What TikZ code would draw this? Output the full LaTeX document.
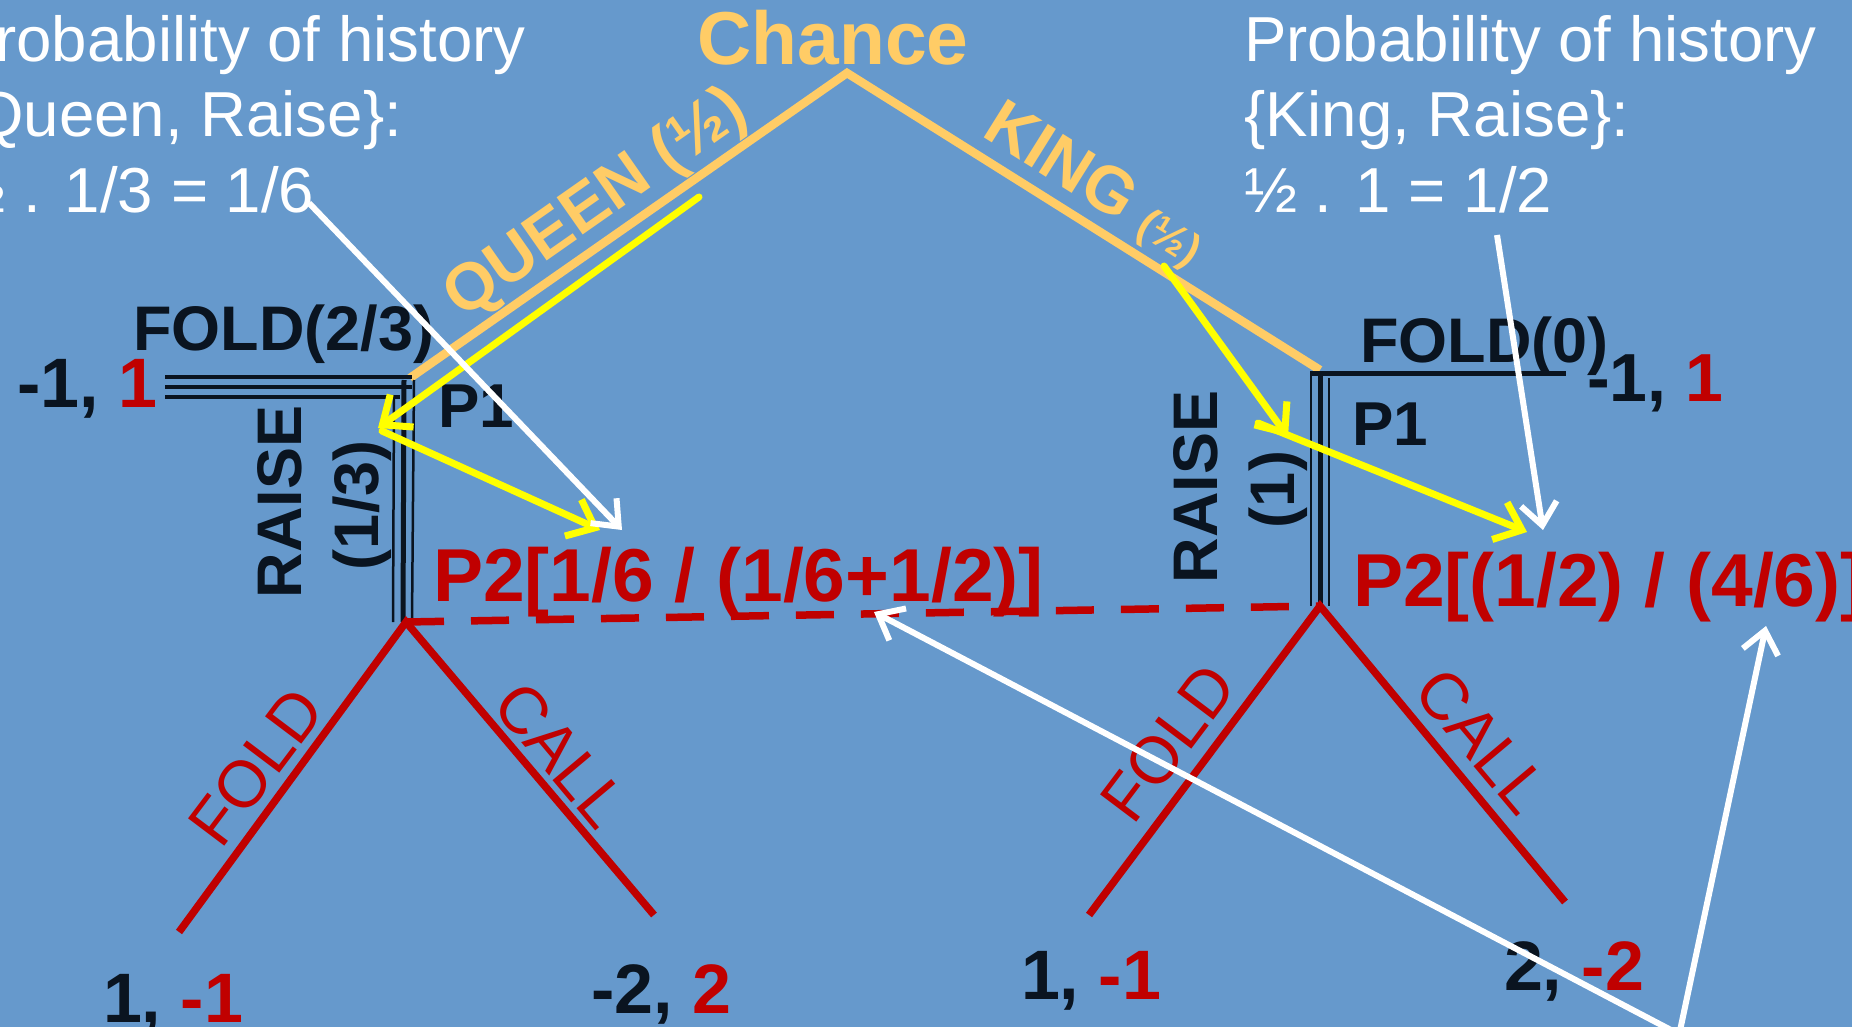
\documentclass[tikz,border=0pt]{standalone}
\usepackage{fontspec}
\setmainfont{Liberation Sans}
\usetikzlibrary{arrows.meta}
\definecolor{bg}{RGB}{102,153,204}
\definecolor{orng}{RGB}{255,204,102}
\definecolor{dk}{RGB}{10,20,32}
\definecolor{rd}{RGB}{192,0,0}
\definecolor{yl}{RGB}{255,255,0}
\begin{document}
\begin{tikzpicture}[x=1pt,y=-1pt,
  orline/.style={orng, line width=8.5pt},
  bkthin/.style={dk, line width=3.5pt},
  bkthick/.style={dk, line width=5pt},
  rdline/.style={rd, line width=7.5pt},
  rddash/.style={rd, line width=7.5pt, dash pattern=on 38pt off 27pt},
  yarrow/.style={yl, line width=7pt, line cap=round, -{Straight Barb[length=24pt,width=40pt]}},
  warrow/.style={white, line width=6pt, -{Straight Barb[length=22pt,width=36pt]}},
  txt/.style={inner sep=0pt, outer sep=0pt},
  wtxt/.style={txt, text=white, anchor=base west, font=\fontsize{63.6}{75}\selectfont},
  bktxt/.style={txt, text=dk, anchor=base west, font=\fontsize{63}{63}\selectfont\bfseries},
  paytxt/.style={txt, text=dk, anchor=base west, font=\fontsize{70}{70}\selectfont\bfseries},
  p2txt/.style={txt, text=rd, anchor=base west, font=\fontsize{75}{75}\selectfont\bfseries},
  rdlbl/.style={txt, text=rd, anchor=center, font=\fontsize{66}{66}\selectfont},
  orlbl/.style={txt, text=orng, anchor=center, font=\fontsize{66}{66}\selectfont\bfseries},
]
\clip (0,0) rectangle (1852,1027);
\fill[bg] (0,0) rectangle (1852,1027);

% key points
\coordinate (ch) at (847,73);
\coordinate (q) at (410,378);
\coordinate (k) at (1320,370);
\coordinate (l2) at (406,622);
\coordinate (r2) at (1320,606);
\coordinate (llf) at (179,932);
\coordinate (lrc) at (654,915);
\coordinate (rlf) at (1089,915);
\coordinate (rrc) at (1565,902);

% chance branches
\draw[orline] (q) -- (ch) -- (k);

% left P1 triple lines
\coordinate (lh1a) at (165,377); \coordinate (lh1b) at (412,377);
\coordinate (lh2a) at (165,387); \coordinate (lh2b) at (412,387);
\coordinate (lh3a) at (165,397); \coordinate (lh3b) at (400,397);
\draw[bkthin] (lh1a) -- (lh1b);
\draw[bkthin] (lh2a) -- (lh2b);
\draw[bkthin] (lh3a) -- (lh3b);
\coordinate (lv1a) at (394,395); \coordinate (lv1b) at (393,622);
\coordinate (lv2a) at (404,380); \coordinate (lv2b) at (403,622);
\coordinate (lv3a) at (414,380); \coordinate (lv3b) at (412,622);
\draw[bkthin, line width=2.5pt] (lv1a) -- (lv1b);
\draw[bkthick] (lv2a) -- (lv2b);
\draw[bkthin, line width=2.5pt] (lv3a) -- (lv3b);

% right P1 lines
\coordinate (rh1a) at (1310,373); \coordinate (rh1b) at (1566,373);
\draw[bkthick] (rh1a) -- (rh1b);
\coordinate (rv1a) at (1311,372); \coordinate (rv1b) at (1311,606);
\coordinate (rv2a) at (1320,372); \coordinate (rv2b) at (1320,606);
\coordinate (rv3a) at (1329,378); \coordinate (rv3b) at (1329,606);
\draw[bkthin, line width=2.5pt] (rv1a) -- (rv1b);
\draw[bkthick] (rv2a) -- (rv2b);
\draw[bkthin, line width=2.5pt] (rv3a) -- (rv3b);

% P2 red lines
\draw[rddash] (l2) -- (r2);
\draw[rdline] (llf) -- (l2) -- (lrc);
\draw[rdline] (rlf) -- (r2) -- (rrc);

% texts
\node[txt, text=orng, anchor=base, font=\fontsize{75}{75}\selectfont\bfseries] (chance) at (833,65) {Chance};

\node[wtxt] (lt1) at (-47,62) {Probability of history};
\node[wtxt] (lt2) at (-47,137) {\{Queen, Raise\}:};
\node[wtxt] (lt3) at (-47,213) {½ . 1/3 = 1/6};
\node[wtxt] (rt1) at (1244,62) {Probability of history};
\node[wtxt] (rt2) at (1244,137) {\{King, Raise\}:};
\node[wtxt] (rt3) at (1244,213) {½ . 1 = 1/2};

\node[orlbl, rotate=35] (queen) at (597,205) {QUEEN (½)};
\node[orlbl, rotate=-32] (king) at (1062,160) {KING};
\node[orlbl, rotate=-32, font=\fontsize{44}{44}\selectfont\bfseries] (kinghalf) at (1168,240) {(½)};

\node[bktxt] (foldl) at (133,350) {FOLD(2/3)};
\node[bktxt, font=\fontsize{70}{70}\selectfont\bfseries] (payfl) at (17,407) {-1, \textcolor{rd}{1}};
\node[bktxt, font=\fontsize{62}{62}\selectfont\bfseries] (p1l) at (438,427) {P1};
\node[bktxt, rotate=90] (raisel) at (301,598) {RAISE};
\node[bktxt, rotate=90] (raiselp) at (378,570) {(1/3)};
\node[p2txt] (p2l) at (433,601) {P2[1/6 / (1/6+1/2)]};

\node[bktxt] (foldr) at (1360,362) {FOLD(0)};
\node[bktxt, font=\fontsize{68}{68}\selectfont\bfseries] (payfr) at (1587,401) {-1, \textcolor{rd}{1}};
\node[bktxt, font=\fontsize{62}{62}\selectfont\bfseries] (p1r) at (1352,445) {P1};
\node[bktxt, rotate=90] (raiser) at (1217,583) {RAISE};
\node[bktxt, rotate=90] (raiserp) at (1294,528) {(1)};
\node[p2txt] (p2r) at (1353,606) {P2[(1/2) / (4/6)]};

\node[rdlbl, rotate=53] (fl) at (256,767) {FOLD};
\node[rdlbl, rotate=-50] (cl) at (561,755) {CALL};
\node[rdlbl, rotate=53] (fr) at (1168,743) {FOLD};
\node[rdlbl, rotate=-50] (cr) at (1482,741) {CALL};

\node[paytxt] (pay1) at (103,1022) {1, \textcolor{rd}{-1}};
\node[paytxt] (pay2) at (591,1013) {-2, \textcolor{rd}{2}};
\node[paytxt] (pay3) at (1021,999) {1, \textcolor{rd}{-1}};
\node[paytxt] (pay4) at (1504,990) {2, \textcolor{rd}{-2}};

% yellow arrows
\coordinate (yq1s) at (699,197); \coordinate (yq1e) at (378,428);
\coordinate (yq2s) at (382,431); \coordinate (yq2e) at (600,530);
\coordinate (yk1s) at (1164,266); \coordinate (yk1e) at (1288,437);
\coordinate (yk2s) at (1258,423); \coordinate (yk2e) at (1527,532);
\draw[yarrow] (yq1s) -- (yq1e);
\draw[yarrow] (yq2s) -- (yq2e);
\draw[yarrow] (yk1s) -- (yk1e);
\draw[yarrow] (yk2s) -- (yk2e);

% white arrows
\coordinate (wqs) at (309,203); \coordinate (wqe) at (622,530);
\coordinate (wks) at (1497,235); \coordinate (wke) at (1543,530);
\coordinate (w3s) at (1690,1040); \coordinate (w3e) at (874,612);
\coordinate (w4s) at (1678,1040); \coordinate (w4e) at (1766,626);
\draw[warrow] (wqs) -- (wqe);
\draw[warrow] (wks) -- (wke);
\draw[warrow] (w3s) -- (w3e);
\draw[warrow] (w4s) -- (w4e);
\end{tikzpicture}
\end{document}
